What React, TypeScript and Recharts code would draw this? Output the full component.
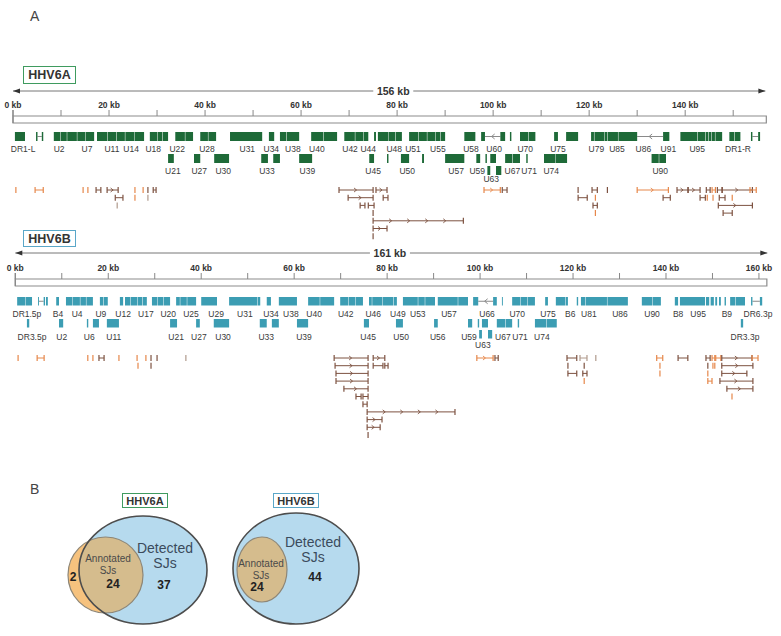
import React from 'react';
import { ComposedChart, XAxis, YAxis, Scatter, ReferenceArea, ReferenceDot } from 'recharts';

const FONT = '"Liberation Sans", Arial, sans-serif';

// ---------- HHV6A ----------
// gene blocks: [start kb, end kb, row]
const GENES_A: [number, number, number][] = [
  [0.4, 2.5, 0], [4.8, 5.1, 0], [6.0, 6.3, 0],
  [8.5, 9.8, 0], [9.9, 11.2, 0], [11.3, 13.3, 0], [13.4, 15, 0], [15.1, 16.9, 0],
  [17.5, 19.6, 0], [19.7, 21.5, 0], [21.6, 23.3, 0], [23.4, 25.2, 0], [25.3, 27.3, 0],
  [28.5, 30, 0], [30.1, 31.1, 0], [31.2, 32.3, 0],
  [33.8, 35.8, 0], [35.9, 37.5, 0], [39, 40.6, 0], [40.7, 42.3, 0],
  [45.2, 51.9, 0], [53.3, 54.4, 0], [55.6, 56.9, 0], [57, 59.6, 0],
  [62.1, 64.6, 0], [64.7, 67.5, 0], [69, 71.2, 0], [71.3, 72.9, 0], [73, 74, 0],
  [75.2, 75.6, 0], [76, 78.1, 0], [78.2, 79.6, 0], [79.7, 81, 0],
  [82.5, 84.4, 0], [84.5, 86.2, 0], [86.3, 87.9, 0], [88, 89, 0], [89.1, 90, 0],
  [94, 96.3, 0], [97.5, 98.3, 0], [101.5, 102.5, 0], [103.5, 103.8, 0],
  [105.6, 107.3, 0], [107.4, 108.8, 0], [112.7, 113.5, 0], [115.2, 117.7, 0],
  [120.4, 121, 0], [121.1, 123.2, 0], [123.3, 123.8, 0], [123.9, 126, 0], [126.1, 130, 0],
  [135.4, 136.7, 0],
  [139, 142.5, 0], [142.6, 144.2, 0], [144.3, 144.8, 0], [144.9, 145.4, 0], [145.5, 146.2, 0], [146.3, 147.7, 0],
  [149.2, 150.2, 0], [150.3, 151.5, 0], [153.7, 154.0, 0], [155.2, 155.6, 0],
  [32.3, 33.5, 1], [37.7, 39, 1], [41.9, 45, 1], [51.7, 53.1, 1], [54.2, 55.6, 1],
  [59.6, 62.3, 1], [74.2, 75.2, 1], [77.9, 78.2, 1], [80.8, 82.5, 1], [85.2, 85.6, 1],
  [90, 94, 1], [96.5, 97.3, 1], [98.4, 98.7, 1], [99.4, 100.6, 1], [102.5, 104, 1],
  [104.1, 105.6, 1], [106.9, 107.2, 1], [110.6, 113, 1], [113.1, 115.4, 1],
  [133, 134.5, 1], [134.6, 136, 1],
  [98.8, 99.4, 2], [100.6, 101.7, 2],
];
// introns: [start, end, row, has arrow]
const INTRONS_A: [number, number, number, boolean][] = [
  [5.1, 6.0, 0, false], [98.3, 101.5, 0, true], [130, 135.4, 0, true], [154.0, 155.2, 0, false],
];
const LABELS_A: [string, number, number][] = [
  ['DR1-L', 2.1, 0], ['U2', 9.6, 0], ['U7', 15.4, 0], ['U11', 20.6, 0], ['U14', 24.6, 0],
  ['U18', 29.2, 0], ['U22', 34.2, 0], ['U28', 40.4, 0], ['U31', 48.8, 0], ['U34', 53.8, 0],
  ['U38', 58.3, 0], ['U40', 63.3, 0], ['U42', 70.2, 0], ['U44', 74, 0], ['U48', 79.4, 0],
  ['U51', 83.3, 0], ['U55', 88.5, 0], ['U58', 95.4, 0], ['U60', 100.2, 0], ['U70', 106.7, 0],
  ['U75', 113.5, 0], ['U79', 121.5, 0], ['U85', 125.8, 0], ['U86', 131.3, 0], ['U91', 136.5, 0],
  ['U95', 142.5, 0], ['DR1-R', 151, 0],
  ['U21', 33.3, 1], ['U27', 38.8, 1], ['U30', 43.8, 1], ['U33', 52.9, 1], ['U39', 61.3, 1],
  ['U45', 75, 1], ['U50', 82.1, 1], ['U57', 92.3, 1], ['U59', 96.7, 1], ['U67', 104, 1],
  ['U71', 107.5, 1], ['U74', 112.1, 1], ['U90', 134.8, 1],
  ['U63', 99.6, 2],
];
// splice junctions: [start, end, row, kind] (o = orange, b = brown, g = faint)
const JUNCTIONS_A: [number, number, number, string][] = [
  [0.6, 0.6, 0, 'o'], [4.6, 6.3, 0, 'o'], [14.6, 14.6, 0, 'o'], [15.6, 15.6, 0, 'o'], [17.3, 18.3, 0, 'b'],
  [19.6, 21.9, 0, 'b'], [25.4, 25.4, 0, 'o'], [27.1, 27.1, 0, 'o'], [28.1, 28.1, 0, 'b'], [29.2, 29.8, 0, 'b'],
  [67.9, 75, 0, 'b'], [75.6, 77.9, 0, 'b'], [98.1, 101.5, 0, 'o'], [101.9, 102.9, 0, 'b'],
  [117.7, 117.7, 0, 'b'], [120.6, 121.7, 0, 'b'], [123.8, 123.8, 0, 'b'], [130, 136.5, 0, 'o'],
  [138.3, 140.6, 0, 'b'], [140.6, 143.1, 0, 'b'], [144.4, 145.2, 0, 'b'], [145.6, 146.3, 0, 'o'],
  [146.7, 147.7, 0, 'b'], [147.7, 154, 0, 'b'], [153.5, 154.8, 0, 'o'],
  [21.3, 22.9, 1, 'b'], [25.4, 25.4, 1, 'o'], [28.1, 28.1, 1, 'g'], [69.8, 75, 1, 'b'], [77.1, 78.1, 1, 'b'],
  [117.7, 119.6, 1, 'b'], [121.3, 121.3, 1, 'o'], [135.4, 136.9, 1, 'b'], [143.1, 144.2, 1, 'b'],
  [144.6, 144.6, 1, 'o'], [145.8, 145.8, 1, 'o'], [147.1, 148.3, 1, 'b'], [149.8, 149.8, 1, 'o'],
  [21.7, 21.7, 2, 'g'], [72.3, 73.3, 2, 'b'], [74, 75.2, 2, 'b'], [120.8, 121.7, 2, 'b'], [146.9, 154, 2, 'b'],
  [75, 75, 3, 'b'], [121.3, 121.3, 3, 'o'], [147.9, 149.8, 3, 'b'],
  [75, 93.8, 4, 'b'],
  [75, 77.9, 5, 'b'],
  [75, 75, 6, 'b'],
];
const TICKS_A = [0, 10, 20, 30, 40, 50, 60, 70, 80, 90, 100, 110, 120, 130, 140, 150];

// ---------- HHV6B ----------
const GENES_B: [number, number, number][] = [
  [0.4, 2.2, 0], [2.3, 3.6, 0], [4.9, 5.1, 0], [6.1, 6.4, 0], [6.6, 7.0, 0], [8.8, 9.4, 0],
  [10.9, 12.2, 0], [12.3, 13.9, 0], [14, 15.2, 0], [15.3, 16.7, 0], [18.2, 18.9, 0], [19, 19.9, 0],
  [22.5, 23.2, 0], [23.6, 24.7, 0], [24.8, 26.2, 0], [26.3, 27.3, 0], [27.4, 28.3, 0],
  [29.4, 30.5, 0], [30.6, 31.8, 0], [31.9, 33.3, 0], [34.6, 35.4, 0], [35.5, 36.9, 0], [37, 38.9, 0],
  [40, 43.4, 0], [46, 52.1, 0], [52.2, 52.7, 0], [54.1, 55, 0], [56.7, 60.6, 0],
  [63, 65.5, 0], [65.6, 68.6, 0], [69.9, 71.6, 0], [71.7, 73.1, 0], [73.2, 74.8, 0],
  [76.1, 76.7, 0], [76.8, 78.9, 0], [79, 81.3, 0], [81.4, 82.1, 0],
  [83.4, 86.6, 0], [86.7, 88.1, 0], [88.2, 90.3, 0], [90.9, 95.2, 0], [95.3, 97.4, 0],
  [98.5, 99.6, 0], [102.8, 103.6, 0], [104.7, 104.9, 0],
  [106.9, 108.6, 0], [108.7, 110.1, 0], [110.2, 111.8, 0], [114, 114.6, 0],
  [116.3, 118.3, 0], [118.4, 118.9, 0], [120.8, 121.1, 0],
  [121.7, 122.6, 0], [122.7, 127.3, 0], [127.4, 131.8, 0], [134.8, 137, 0], [137.1, 138.9, 0],
  [141.9, 142.6, 0], [143, 148.4, 0], [148.6, 149.3, 0], [149.6, 150.3, 0], [150.6, 151.0, 0],
  [151.4, 151.8, 0], [152.6, 152.9, 0], [153.8, 154.9, 0], [155, 157, 0], [158.3, 158.6, 0], [160.2, 160.7, 0],
  [2.5, 3.0, 1], [9.4, 10.3, 1], [15.4, 15.7, 1], [16.7, 18, 1], [19.7, 22.3, 1], [33.3, 34.8, 1],
  [38.9, 39.7, 1], [42.7, 46, 1], [52.6, 54.1, 1], [55.2, 56.7, 1], [60.6, 63, 1], [75, 76.1, 1],
  [81.9, 83.4, 1], [90.1, 90.9, 1], [97.4, 98.3, 1], [99.5, 99.8, 1], [100.4, 101.7, 1],
  [103.6, 105.4, 1], [105.5, 106.9, 1], [108.1, 108.4, 1], [111.8, 114.2, 1], [114.3, 116.5, 1],
  [156.1, 156.6, 1],
  [99.8, 100.4, 2], [101.7, 102.6, 2],
];
const INTRONS_B: [number, number, number, boolean][] = [
  [5.1, 6.1, 0, false], [99.6, 102.8, 0, true], [158.6, 160.2, 0, false],
];
const LABELS_B: [string, number, number][] = [
  ['DR1.5p', 2.5, 0], ['B4', 9.2, 0], ['U4', 13.3, 0], ['U9', 18.4, 0], ['U12', 23.2, 0],
  ['U17', 28.1, 0], ['U20', 32.9, 0], ['U25', 37.8, 0], ['U29', 43.2, 0], ['U31', 49.4, 0],
  ['U34', 55, 0], ['U38', 59.3, 0], ['U40', 64.3, 0], ['U42', 71.1, 0], ['U46', 77, 0],
  ['U49', 82.3, 0], ['U53', 86.6, 0], ['U57', 93.3, 0], ['U66', 101.5, 0], ['U70', 108, 0],
  ['U75', 114.6, 0], ['B6', 119.4, 0], ['U81', 123.4, 0], ['U86', 130.1, 0], ['U90', 137, 0],
  ['B8', 142.6, 0], ['U95', 146.9, 0], ['B9', 153.1, 0], ['DR6.3p', 159.8, 0],
  ['DR3.5p', 3.6, 1], ['U2', 10, 1], ['U6', 15.9, 1], ['U11', 21.2, 1], ['U21', 34.6, 1],
  ['U27', 39.5, 1], ['U30', 44.7, 1], ['U33', 54, 1], ['U39', 62.1, 1], ['U45', 75.9, 1],
  ['U50', 83, 1], ['U56', 90.9, 1], ['U59', 97.6, 1], ['U67', 104.9, 1], ['U71', 108.6, 1],
  ['U74', 113.3, 1], ['DR3.3p', 157, 1],
  ['U63', 100.6, 2],
];
const JUNCTIONS_B: [number, number, number, string][] = [
  [0.6, 0.6, 0, 'o'], [4.7, 6.2, 0, 'o'], [15.6, 15.6, 0, 'o'], [16.7, 16.7, 0, 'o'], [18, 19.1, 0, 'b'],
  [22.3, 22.3, 0, 'o'], [26.2, 26.2, 0, 'o'], [28.1, 28.1, 0, 'o'], [29.2, 29.2, 0, 'b'], [30.5, 30.5, 0, 'b'],
  [36.7, 36.7, 0, 'g'], [68.6, 75.9, 0, 'b'], [77, 79.5, 0, 'b'], [99.3, 102.8, 0, 'o'], [103.2, 103.9, 0, 'b'],
  [118.7, 120.8, 0, 'b'], [121.5, 123, 0, 'g'], [124.9, 124.9, 0, 'g'], [138, 139.3, 0, 'o'],
  [142.6, 144.7, 0, 'b'], [148.6, 149.5, 0, 'b'], [149.9, 150.5, 0, 'o'], [150.7, 151.8, 0, 'o'],
  [152, 158.5, 0, 'b'], [158.5, 159.8, 0, 'o'],
  [26.4, 26.4, 1, 'o'], [29.2, 29.2, 1, 'b'], [68.8, 75.9, 1, 'b'], [77, 79.1, 1, 'b'], [79.5, 80.2, 1, 'b'],
  [118.9, 118.9, 1, 'b'], [122.4, 122.4, 1, 'b'], [138.7, 138.7, 1, 'o'], [149, 149, 1, 'b'],
  [150.1, 150.1, 1, 'o'], [150.5, 150.5, 1, 'o'], [152, 158.7, 1, 'b'],
  [69, 75.9, 2, 'b'], [118.9, 120.8, 2, 'b'], [122.1, 123, 2, 'b'], [138.7, 138.7, 2, 'o'],
  [149, 149, 2, 'o'], [152, 157.4, 2, 'b'],
  [69, 75.9, 3, 'b'], [122.4, 122.4, 3, 'o'], [149, 149.9, 3, 'o'], [151.6, 158.7, 3, 'b'],
  [70.7, 75.9, 4, 'b'], [153.1, 158.7, 4, 'b'],
  [73.3, 74.4, 5, 'b'], [74.8, 75.9, 5, 'b'], [154.2, 154.2, 5, 'o'],
  [74.8, 75.7, 6, 'b'],
  [75.7, 94.6, 7, 'b'],
  [75.7, 78.9, 8, 'b'],
  [75.7, 78.5, 9, 'b'],
  [75.9, 75.9, 10, 'b'],
];
const TICKS_B = [0, 10, 20, 30, 40, 50, 60, 70, 80, 90, 100, 110, 120, 130, 140, 150, 160];

// ---------- Venn ----------
const VENN_A_COUNTS = [2, 24, 37]; // annotated only, shared, detected only
const VENN_B_COUNTS = [24, 44]; // shared, detected only

const JUNC_COLORS: Record<string, string> = { o: '#e6874a', b: '#7d5241', g: '#b09a8c' };

interface TrackLayout {
  top: number;
  height: number;
  left: number;
  right: number;
  length: number;
  lengthLabelAt: number;
  rulerEnd: number;
  arrowEnd: number;
  arrowY: number;
  geneTop: number[];
  geneH: number;
  labelY: number[];
  juncY0: number;
  juncGap: number;
}

const LAYOUT_A: TrackLayout = {
  top: 80, height: 130, left: 13, right: 19, length: 156, lengthLabelAt: 79.2,
  rulerEnd: 156.9, arrowEnd: 156.7, arrowY: -25,
  geneTop: [16, 38, 50], geneH: 9, labelY: [33, 55, 63], juncY0: 74, juncGap: 7.7,
};
const LAYOUT_B: TrackLayout = {
  top: 243, height: 162, left: 15.3, right: 17.4, length: 161, lengthLabelAt: 80.6,
  rulerEnd: 161.7, arrowEnd: 161.8, arrowY: -26,
  geneTop: [18, 40, 51], geneH: 8.5, labelY: [35, 58, 66], juncY0: 79, juncGap: 7.7,
};

const rectOf = (p: any) => {
  const x = Math.min(p.x, p.x + p.width);
  const y = Math.min(p.y, p.y + p.height);
  return { x, y, w: Math.abs(p.width), h: Math.abs(p.height) };
};

// junction: line with end caps and direction marks
const junctionShape = (color: string) => (p: any) => {
  const { x, y, w, h } = rectOf(p);
  const cy = y + h / 2;
  const n = w < 10 ? 0 : Math.max(1, Math.floor(w / 19));
  const marks = [];
  for (let k = 1; k <= n; k++) {
    const ax = x + (w * k) / (n + 1);
    marks.push(<path key={k} d={`M${ax - 2},${cy - 2}L${ax + 0.5},${cy}L${ax - 2},${cy + 2}`} fill="none" stroke={color} strokeWidth={0.9} />);
  }
  return (
    <g>
      {w > 0.5 && <line x1={x} y1={cy} x2={x + w} y2={cy} stroke={color} strokeWidth={1} />}
      <line x1={x} y1={y} x2={x} y2={y + h} stroke={color} strokeWidth={1.2} />
      {w > 0.5 && <line x1={x + w} y1={y} x2={x + w} y2={y + h} stroke={color} strokeWidth={1.2} />}
      {marks}
    </g>
  );
};

const intronShape = (arrow: boolean) => (p: any) => {
  const { x, y, w, h } = rectOf(p);
  const cy = y + h / 2;
  const mx = x + w / 2;
  return (
    <g>
      <line x1={x} y1={cy} x2={x + w} y2={cy} stroke="#8a8a8a" strokeWidth={1} />
      {arrow && <path d={`M${mx + 2},${cy - 2.5}L${mx - 1},${cy}L${mx + 2},${cy + 2.5}`} fill="none" stroke="#8a8a8a" strokeWidth={1} />}
    </g>
  );
};

const lengthArrowShape = (p: any) => {
  const { x, y, w } = rectOf(p);
  return (
    <g>
      <line x1={x} y1={y} x2={x + w} y2={y} stroke="#777" strokeWidth={1} />
      <path d={`M${x},${y}L${x + 7},${y - 2.5}L${x + 7},${y + 2.5}Z`} fill="#333" />
      <path d={`M${x + w},${y}L${x + w - 7},${y - 2.5}L${x + w - 7},${y + 2.5}Z`} fill="#333" />
    </g>
  );
};

const lengthLabelShape = (label: string) => (p: any) => (
  <g>
    <rect x={p.cx - 20} y={p.cy - 7} width={40} height={14} fill="#fff" />
    <text x={p.cx} y={p.cy} textAnchor="middle" dominantBaseline="central" fontFamily={FONT} fontWeight={700} fontSize={10.5} fill="#333">
      {label}
    </text>
  </g>
);

const geneLabelShape = (p: any) => (
  <text x={p.cx} y={p.cy} textAnchor="middle" dominantBaseline="central" fontFamily={FONT} fontSize={8.5} fill="#3a3a3a">
    {p.payload.name}
  </text>
);

function GenomeTrack({
  genes, introns, labels, junctions, ticks, color, L, lengthLabel,
}: {
  genes: [number, number, number][];
  introns: [number, number, number, boolean][];
  labels: [string, number, number][];
  junctions: [number, number, number, string][];
  ticks: number[];
  color: string;
  L: TrackLayout;
  lengthLabel: string;
}) {
  const labelData = labels.map(([name, kb, row]) => ({ x: kb, y: L.labelY[row], name }));
  return (
    <div style={{ position: 'absolute', left: 0, top: L.top }}>
      <ComposedChart width={781} height={36 + L.height} margin={{ top: 0, right: L.right, bottom: 0, left: L.left }}>
        <XAxis
          type="number"
          dataKey="x"
          orientation="top"
          domain={[0, L.length]}
          ticks={ticks}
          interval={0}
          tickFormatter={(v: number) => (v % 20 === 0 ? `${v} kb` : '')}
          tickSize={6}
          tickMargin={2}
          axisLine={false}
          tickLine={{ stroke: '#888' }}
          height={36}
          tick={{ fontSize: 8.5, fontWeight: 700, fill: '#333', fontFamily: FONT }}
        />
        <YAxis type="number" dataKey="y" domain={[0, L.height]} reversed hide />

        <ReferenceArea x1={0} x2={L.arrowEnd} y1={L.arrowY} y2={L.arrowY} ifOverflow="visible" shape={lengthArrowShape} />
        <ReferenceDot x={L.lengthLabelAt} y={L.arrowY} ifOverflow="visible" shape={lengthLabelShape(lengthLabel)} />

        <ReferenceArea x1={0} x2={L.rulerEnd} y1={0} y2={7} ifOverflow="visible" fill="#fff" fillOpacity={1} stroke="#8c8c8c" strokeWidth={1.2} />
        <ReferenceArea x1={0} x2={0} y1={-6} y2={7} ifOverflow="visible" shape={junctionShape('#888')} />

        {introns.map(([s, e, row, arrow], i) => (
          <ReferenceArea key={`in${i}`} x1={s} x2={e} y1={L.geneTop[row]} y2={L.geneTop[row] + L.geneH} ifOverflow="visible" shape={intronShape(arrow)} />
        ))}
        {genes.map(([s, e, row], i) => (
          <ReferenceArea key={`g${i}`} x1={s} x2={e} y1={L.geneTop[row]} y2={L.geneTop[row] + L.geneH} ifOverflow="visible" fill={color} fillOpacity={1} stroke="none" />
        ))}
        {junctions.map(([s, e, row, kind], i) => (
          <ReferenceArea
            key={`j${i}`}
            x1={s}
            x2={e}
            y1={L.juncY0 + row * L.juncGap - 3}
            y2={L.juncY0 + row * L.juncGap + 3}
            ifOverflow="visible"
            shape={junctionShape(JUNC_COLORS[kind])}
          />
        ))}
        <Scatter data={labelData} isAnimationActive={false} shape={geneLabelShape} />
      </ComposedChart>
    </div>
  );
}

// ellipse drawn inside the ReferenceArea rectangle
const ellipseShape = (fill: string, stroke: string, sw: number, clipDef?: string, clipUse?: string) => (p: any) => {
  const { x, y, w, h } = rectOf(p);
  const e = { cx: x + w / 2, cy: y + h / 2, rx: w / 2, ry: h / 2 };
  return (
    <g>
      {clipDef && (
        <defs>
          <clipPath id={clipDef}>
            <ellipse {...e} />
          </clipPath>
        </defs>
      )}
      <ellipse {...e} fill={fill} stroke={stroke} strokeWidth={sw} clipPath={clipUse ? `url(#${clipUse})` : undefined} />
    </g>
  );
};

const vennTextShape = (p: any) => (
  <text
    x={p.cx}
    y={p.cy}
    textAnchor="middle"
    dominantBaseline="central"
    fontFamily={FONT}
    fontSize={p.payload.size}
    fontWeight={p.payload.bold ? 700 : 400}
    fill={p.payload.color}
  >
    {p.payload.text}
  </text>
);

const BLUE = '#b6daee';
const ORANGE = '#f6c27e';
const TAN = '#d5bc8d';
const OUTLINE = '#4d4d4d';
const INNER = '#8e8676';

function Venn() {
  const texts = [
    { x: 165, y: 38, text: 'Detected', size: 14, color: '#3b4b5c' },
    { x: 165, y: 53, text: 'SJs', size: 14, color: '#3b4b5c' },
    { x: 164, y: 75, text: String(VENN_A_COUNTS[2]), size: 12, bold: true, color: '#222' },
    { x: 108, y: 48, text: 'Annotated', size: 10, color: '#4a4a4a' },
    { x: 108, y: 60, text: 'SJs', size: 10, color: '#4a4a4a' },
    { x: 113, y: 74, text: String(VENN_A_COUNTS[1]), size: 12, bold: true, color: '#222' },
    { x: 73, y: 67, text: String(VENN_A_COUNTS[0]), size: 12, bold: true, color: '#222' },
    { x: 313, y: 32, text: 'Detected', size: 14, color: '#3b4b5c' },
    { x: 313, y: 47, text: 'SJs', size: 14, color: '#3b4b5c' },
    { x: 315, y: 67, text: String(VENN_B_COUNTS[1]), size: 12, bold: true, color: '#222' },
    { x: 261, y: 53, text: 'Annotated', size: 10, color: '#4a4a4a' },
    { x: 261, y: 65, text: 'SJs', size: 10, color: '#4a4a4a' },
    { x: 257, y: 77, text: String(VENN_B_COUNTS[0]), size: 12, bold: true, color: '#222' },
  ];
  return (
    <div style={{ position: 'absolute', left: 0, top: 510 }}>
      <ComposedChart width={400} height={120} margin={{ top: 0, right: 0, bottom: 0, left: 0 }}>
        <XAxis type="number" dataKey="x" domain={[0, 400]} hide />
        <YAxis type="number" dataKey="y" domain={[0, 120]} reversed hide />
        {/* HHV6A */}
        <ReferenceArea x1={68} x2={143} y1={27} y2={103} ifOverflow="visible" shape={ellipseShape(ORANGE, INNER, 1.2)} />
        <ReferenceArea x1={79} x2={207} y1={6} y2={114} ifOverflow="visible" shape={ellipseShape(BLUE, 'none', 0, 'vennABlue')} />
        <ReferenceArea x1={68} x2={143} y1={27} y2={103} ifOverflow="visible" shape={ellipseShape(TAN, INNER, 1.2, undefined, 'vennABlue')} />
        <ReferenceArea x1={79} x2={207} y1={6} y2={114} ifOverflow="visible" shape={ellipseShape('none', OUTLINE, 1.6)} />
        {/* HHV6B */}
        <ReferenceArea x1={233} x2={359} y1={3} y2={114} ifOverflow="visible" shape={ellipseShape(BLUE, OUTLINE, 1.6)} />
        <ReferenceArea x1={237} x2={287} y1={27} y2={92} ifOverflow="visible" shape={ellipseShape(TAN, INNER, 1.2)} />
        <Scatter data={texts} isAnimationActive={false} shape={vennTextShape} />
      </ComposedChart>
    </div>
  );
}

const panelLetter: React.CSSProperties = {
  position: 'absolute', fontFamily: FONT, fontSize: 14, color: '#444', lineHeight: '14px',
};

const titleBox = (left: number, top: number, w: number, h: number, border: string, size: number): React.CSSProperties => ({
  position: 'absolute', left, top, width: w, height: h, boxSizing: 'border-box',
  border: `1.5px solid ${border}`, fontFamily: FONT, fontWeight: 700, fontSize: size, color: '#333',
  display: 'flex', alignItems: 'center', justifyContent: 'center', background: '#fff',
});

export default function App() {
  return (
    <div style={{ position: 'absolute', left: 0, top: 0, width: 781, height: 636, background: '#fff', overflow: 'hidden' }}>
      <GenomeTrack genes={GENES_A} introns={INTRONS_A} labels={LABELS_A} junctions={JUNCTIONS_A} ticks={TICKS_A} color="#1e6a38" L={LAYOUT_A} lengthLabel="156 kb" />
      <GenomeTrack genes={GENES_B} introns={INTRONS_B} labels={LABELS_B} junctions={JUNCTIONS_B} ticks={TICKS_B} color="#3c9db3" L={LAYOUT_B} lengthLabel="161 kb" />
      <Venn />
      <div style={{ ...panelLetter, left: 30, top: 9 }}>A</div>
      <div style={{ ...panelLetter, left: 30, top: 482 }}>B</div>
      <div style={titleBox(23, 66, 53, 18, '#3f9b5f', 12.5)}>HHV6A</div>
      <div style={titleBox(23, 230, 53, 17, '#5aa7c8', 12.5)}>HHV6B</div>
      <div style={titleBox(122, 493, 46, 15, '#3f9b5f', 11)}>HHV6A</div>
      <div style={titleBox(273, 493, 46, 15, '#5aa7c8', 11)}>HHV6B</div>
    </div>
  );
}
